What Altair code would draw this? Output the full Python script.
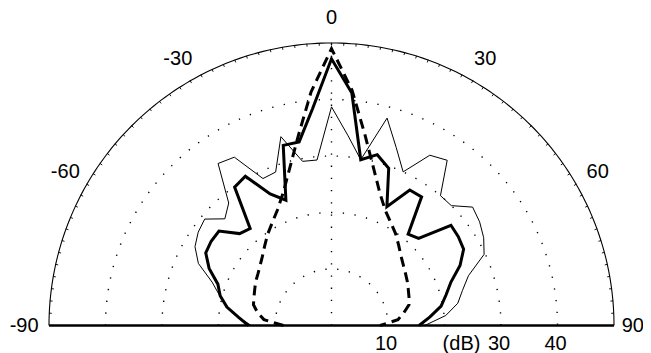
import numpy as np
import pandas as pd
import altair as alt

# ---- data (angles in degrees, levels in dB) ----
angles = list(range(-90, 95, 5))

thin_db = [14.2, 16.5, 18.6, 20.5, 22.5, 26.0, 27.9, 28.8, 29.3, 26.7,
           28.3, 35.0, 34.4, 28.7, 28.9, 34.6, 29.5, 29.4, 38.7, 33.7,
           29.8, 38.0, 33.5, 30.0, 34.8, 35.7, 30.0, 30.0, 32.6, 32.0,
           31.1, 29.8, 25.8, 24.0, 22.7, 20.3, 16.5]

thick_db = [14.7, 16.5, 18.8, 20.4, 21.4, 23.9, 25.7, 26.0, 26.0, 23.0,
            22.4, 29.9, 30.5, 25.7, 23.6, 33.0, 33.0, 38.5, 47.2, 41.3,
            29.8, 31.3, 29.6, 23.2, 27.7, 27.8, 21.1, 21.8, 27.6, 27.4,
            27.0, 25.1, 22.5, 21.0, 19.7, 17.5, 15.5]

dashed_db = [8.5, 12.0, 13.3, 14.3, 14.6, 15.0, 15.5, 15.9, 16.5, 17.3,
             18.4, 19.7, 21.0, 22.6, 25.0, 28.7, 34.0, 41.5, 49.0, 41.8,
             34.2, 28.8, 25.0, 22.5, 21.0, 19.8, 18.5, 17.4, 16.6, 16.0,
             15.5, 15.0, 14.6, 14.2, 13.0, 11.8, 8.6]

ring_db = [10, 20, 30, 40]
outer_db = 50
angle_labels = [-90, -60, -30, 0, 30, 60, 90]
radial_labels = ["10", "30", "40"]
radial_label_vals = [10, 30, 40]
unit_label = "(dB)"
unit_label_val = 20

# ---- helpers ----
def polar(ang, r, **extra):
    a = np.radians(np.asarray(ang, dtype=float))
    r = np.asarray(r, dtype=float)
    df = pd.DataFrame({"a": np.asarray(ang, dtype=float), "r": r,
                       "x": r * np.sin(a), "y": r * np.cos(a)})
    for k, v in extra.items():
        df[k] = v
    return df

W, H = 565, 282.5
xs = alt.Scale(domain=[-50, 50], nice=False, zero=False)
ys = alt.Scale(domain=[0, 50], nice=False, zero=False)
X = alt.X("x:Q", scale=xs, axis=None)
Y = alt.Y("y:Q", scale=ys, axis=None)
FONT = "Liberation Sans"

grid_ang = np.arange(-90, 90.5, 1.0)

# dotted rings
rings = pd.concat([polar(grid_ang, [rv] * len(grid_ang), ring=rv) for rv in ring_db])
ring_layer = alt.Chart(rings).mark_line(
    color="black", strokeWidth=1.4, strokeDash=[1.3, 10.5], strokeCap="butt"
).encode(X, Y, detail="ring:N", order="a:Q")

# dotted vertical line at 0 deg
vline = polar([0, 0], [0, outer_db])
vline_layer = alt.Chart(vline).mark_line(
    color="black", strokeWidth=1.4, strokeDash=[1.3, 10.9], strokeCap="butt"
).encode(X, Y, order="r:Q")

# outer circle
outer = polar(grid_ang, [outer_db] * len(grid_ang))
outer_layer = alt.Chart(outer).mark_line(color="black", strokeWidth=1.1).encode(
    X, Y, order="a:Q")

# small ticks on the outer circle
tick_ang = np.arange(-87.5, 88, 2.5)
ti = polar(tick_ang, [outer_db - 0.45] * len(tick_ang))
to = polar(tick_ang, [outer_db + 0.05] * len(tick_ang))
ticks = pd.DataFrame({"x": ti["x"], "y": ti["y"], "x2": to["x"], "y2": to["y"]})
tick_layer = alt.Chart(ticks).mark_rule(color="black", strokeWidth=0.9).encode(
    X, Y, x2="x2:Q", y2="y2:Q")

# baseline
base = pd.DataFrame({"x": [-outer_db, outer_db], "y": [0, 0]})
base_layer = alt.Chart(base).mark_line(color="black", strokeWidth=2.6).encode(X, Y)

# series
thin = polar(angles, thin_db)
thick = polar(angles, thick_db)
dashed = polar(angles, dashed_db)
thin_layer = alt.Chart(thin).mark_line(color="black", strokeWidth=1.0,
                                       strokeJoin="miter").encode(X, Y, order="a:Q")
thick_layer = alt.Chart(thick).mark_line(color="black", strokeWidth=3.0,
                                         strokeJoin="miter").encode(X, Y, order="a:Q")
dashed_layer = alt.Chart(dashed).mark_line(color="black", strokeWidth=3.0,
                                           strokeDash=[10, 6]).encode(X, Y, order="a:Q")

# angle labels
LABEL_R = 54.4
lab = polar(angle_labels, [LABEL_R] * len(angle_labels),
            t=[str(v) for v in angle_labels])
lab_main = lab[lab["a"] < 90]
lab_right = lab[lab["a"] >= 90]
lab_layer = alt.Chart(lab_main).mark_text(
    font=FONT, fontSize=20, color="black", align="center", baseline="middle"
).encode(X, Y, text="t:N")
lab_right_layer = alt.Chart(lab_right).mark_text(
    font=FONT, fontSize=20, color="black", align="center", baseline="middle", dx=-6
).encode(X, Y, text="t:N")

# radial labels below baseline
rl = pd.DataFrame({"x": radial_label_vals, "y": [-3.2] * 3, "t": radial_labels})
rl_layer = alt.Chart(rl).mark_text(
    font=FONT, fontSize=20, color="black", align="center", baseline="middle", dx=-2
).encode(X, Y, text="t:N")
ul = pd.DataFrame({"x": [unit_label_val], "y": [-3.2], "t": [unit_label]})
ul_layer = alt.Chart(ul).mark_text(
    font=FONT, fontSize=20, color="black", align="center", baseline="middle", dx=17
).encode(X, Y, text="t:N")

chart = alt.layer(
    ring_layer, vline_layer, outer_layer, tick_layer,
    thin_layer, thick_layer, dashed_layer, base_layer,
    lab_layer, lab_right_layer, rl_layer, ul_layer
).properties(
    width=W, height=H,
    autosize=alt.AutoSizeParams(type="none"),
    padding={"left": 41, "top": 35, "right": 29, "bottom": 27.5},
).configure_view(stroke=None)

chart.save("out.html", embed_options={"renderer": "svg", "actions": False})
